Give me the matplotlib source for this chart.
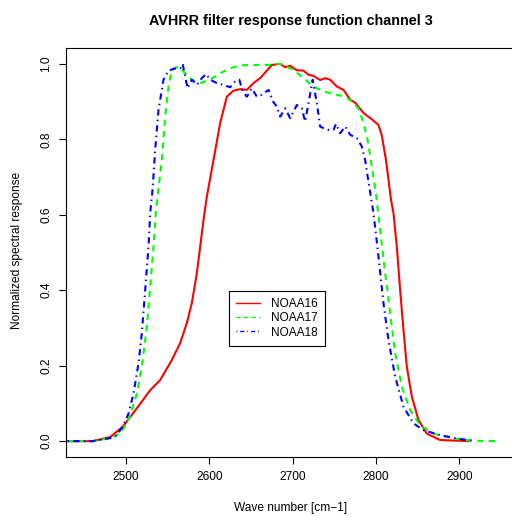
import matplotlib
matplotlib.use("Agg")
import matplotlib.pyplot as plt
from matplotlib.lines import Line2D

plt.rcParams['font.family'] = ['Liberation Sans', 'DejaVu Sans']

# NOAA16
wn16 = [2430, 2460, 2481, 2496, 2513, 2529, 2541, 2555, 2565, 2573, 2579, 2585,
        2589, 2593, 2597, 2605, 2613, 2621, 2629, 2637, 2645, 2653, 2661, 2669,
        2675, 2685, 2691, 2697, 2705, 2713, 2719, 2725, 2733, 2739, 2745, 2753,
        2761, 2769, 2775, 2785, 2795, 2803, 2807, 2812, 2818, 2821, 2825, 2829,
        2833, 2837, 2843, 2851, 2861, 2877, 2911]
rs16 = [0.0, 0.0, 0.011, 0.038, 0.087, 0.135, 0.162, 0.215, 0.26, 0.313, 0.366, 0.445,
        0.515, 0.586, 0.648, 0.745, 0.843, 0.913, 0.929, 0.933, 0.931, 0.949, 0.962, 0.982,
        0.997, 1.0, 0.991, 0.995, 0.983, 0.982, 0.971, 0.968, 0.957, 0.962, 0.958, 0.94,
        0.931, 0.905, 0.897, 0.87, 0.853, 0.838, 0.81, 0.745, 0.64, 0.604, 0.515, 0.40,
        0.294, 0.197, 0.118, 0.056, 0.02, 0.003, 0.0]

# NOAA17
wn17 = [2430, 2460, 2481, 2493, 2501, 2507, 2513, 2519, 2525, 2529, 2533, 2536,
        2539, 2543, 2547, 2551, 2555, 2563, 2571, 2579, 2589, 2601, 2613, 2625,
        2637, 2653, 2669, 2685, 2701, 2713, 2725, 2737, 2751, 2763, 2771, 2779,
        2785, 2790, 2795, 2800, 2805, 2811, 2817, 2823, 2831, 2841, 2853, 2869,
        2893, 2917, 2945]
rs17 = [0.0, 0.0, 0.008, 0.02, 0.047, 0.082, 0.126, 0.197, 0.303, 0.409, 0.515, 0.613,
        0.67, 0.745, 0.86, 0.94, 0.984, 0.993, 0.975, 0.958, 0.949, 0.958, 0.975, 0.988,
        0.996, 0.997, 0.997, 1.0, 0.984, 0.962, 0.94, 0.927, 0.919, 0.913, 0.9, 0.882,
        0.843, 0.798, 0.728, 0.655, 0.56, 0.445, 0.339, 0.233, 0.144, 0.082, 0.042, 0.02,
        0.007, 0.001, 0.0]

# NOAA18
wn18 = [2430, 2460, 2481, 2489, 2497, 2503, 2509, 2515, 2519, 2523, 2527, 2529,
        2532, 2535, 2539, 2545, 2551, 2559, 2565, 2568, 2571, 2574, 2579, 2585,
        2591, 2596, 2601, 2609, 2617, 2625, 2631, 2636, 2640, 2645, 2651, 2657,
        2663, 2671, 2677, 2681, 2685, 2691, 2697, 2705, 2711, 2715, 2719, 2724,
        2729, 2733, 2741, 2749, 2752, 2757, 2763, 2769, 2777, 2783, 2787, 2790,
        2793, 2797, 2803, 2809, 2815, 2823, 2833, 2845, 2857, 2877, 2897, 2917]
rs18 = [0.0, 0.0, 0.008, 0.016, 0.042, 0.073, 0.126, 0.206, 0.286, 0.4, 0.515, 0.604,
        0.67, 0.772, 0.878, 0.958, 0.982, 0.988, 0.988, 1.0, 0.966, 0.935, 0.958, 0.944,
        0.962, 0.973, 0.958, 0.949, 0.944, 0.938, 0.953, 0.958, 0.927, 0.913, 0.935, 0.913,
        0.918, 0.931, 0.898, 0.887, 0.86, 0.882, 0.856, 0.891, 0.882, 0.847, 0.896, 0.958,
        0.896, 0.834, 0.825, 0.825, 0.841, 0.816, 0.834, 0.812, 0.803, 0.781, 0.745, 0.701,
        0.66, 0.604, 0.489, 0.365, 0.268, 0.171, 0.091, 0.047, 0.029, 0.016, 0.007, 0.001]

labels = ["NOAA16", "NOAA17", "NOAA18"]

fig = plt.figure(figsize=(5.12, 5.16), dpi=100)
ax = fig.add_axes([66/512, 1-457/516, 450/512, 409/516])

ax.plot(wn16, rs16, color="#ff0000", lw=1.5)
ax.plot(wn17, rs17, color="#00ff00", lw=1.5, dashes=(3, 2.5))
ax.plot(wn18, rs18, color="#0000ff", lw=1.5, dashes=(0.7, 2, 3, 2))

ax.set_xlim(2428, 2968)
ax.set_ylim(-0.042, 1.042)
ax.set_xticks([2500, 2600, 2700, 2800, 2900])
ax.set_yticks([0.0, 0.2, 0.4, 0.6, 0.8, 1.0])
ax.set_yticklabels(["0.0", "0.2", "0.4", "0.6", "0.8", "1.0"], rotation=90, va="center")
ax.tick_params(labelsize=8.6, length=5, width=0.8, pad=5)
for s in ax.spines.values():
    s.set_linewidth(0.8)

handles = [Line2D([], [], color="#ff0000", lw=1),
           Line2D([], [], color="#00ff00", lw=1, dashes=(3, 2.5)),
           Line2D([], [], color="#0000ff", lw=1, dashes=(0.7, 2, 3, 2))]
leg = ax.legend(handles, labels, loc="upper left", bbox_to_anchor=(0.362, 0.4066),
                fontsize=8.6, frameon=True, fancybox=False, framealpha=1,
                edgecolor="black", handlelength=2.0, handletextpad=0.9,
                labelspacing=0.2, borderpad=0.6, borderaxespad=0)
leg.get_frame().set_linewidth(0.8)

cx = (66 + 516) / 2 / 512
fig.text(cx, 1 - 21/516, "AVHRR filter response function channel 3",
         ha="center", va="center", fontsize=10.4, fontweight="bold")
fig.text(cx, 1 - 508/516, "Wave number [cm\u22121]", ha="center", va="center", fontsize=8.6)
fig.text(17/512, 1 - 250/516, "Normalized spectral response", ha="center", va="center",
         rotation=90, fontsize=8.6)

fig.savefig("out.png", dpi=100)
